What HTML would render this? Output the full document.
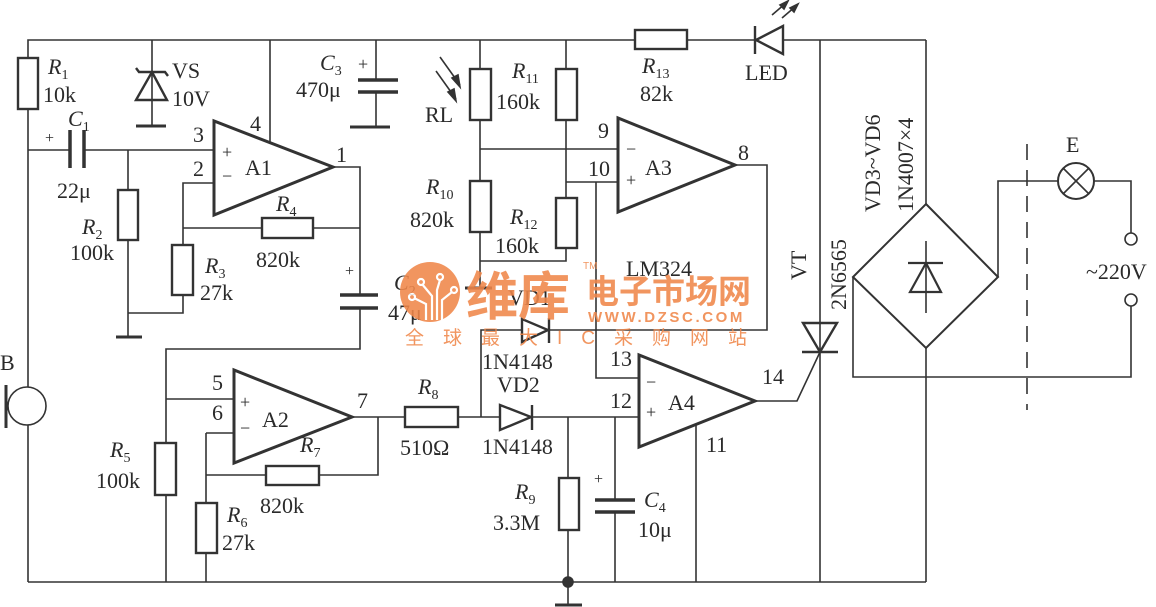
<!DOCTYPE html>
<html><head><meta charset="utf-8"><style>
html,body{margin:0;padding:0;background:#fff;}
svg{display:block;}
text{font-family:"Liberation Serif",serif;fill:#2a2a2a;}
</style></head><body>
<svg width="1156" height="607" viewBox="0 0 1156 607" xmlns="http://www.w3.org/2000/svg">
<g stroke="#333" stroke-width="1.6" fill="none">
<!-- top rail -->
<polyline points="28,58 28,40 926,40"/>
<line x1="28" y1="109" x2="28" y2="387"/>
<line x1="28" y1="425" x2="28" y2="582"/>
<line x1="28" y1="582" x2="926" y2="582"/>
<!-- R1 -->
<rect x="18" y="58" width="20" height="51" stroke-width="2.4"/>
<!-- C1 line -->
<line x1="28" y1="150" x2="70" y2="150"/>
<line x1="84" y1="150" x2="214" y2="150"/>
<line x1="70" y1="130" x2="70" y2="168" stroke-width="3.5"/>
<line x1="84" y1="130" x2="84" y2="168" stroke-width="3.5"/>
<!-- VS -->
<line x1="152" y1="40" x2="152" y2="126"/>
<line x1="136" y1="126" x2="166" y2="126" stroke-width="3"/>
<polygon points="152,72 136,100 167,100" stroke-width="2.4"/>
<polyline points="136,68 139,72 165,72 168,76" stroke-width="2.4"/>
<!-- A1 -->
<polygon points="214,121 214,215 333,167" stroke-width="3"/>
<line x1="270" y1="40" x2="270" y2="144"/>
<polyline points="333,167 360,167 360,295"/>
<line x1="340" y1="295" x2="378" y2="295" stroke-width="3.5"/>
<line x1="340" y1="308" x2="378" y2="308" stroke-width="3.5"/>
<polyline points="360,308 360,349 166,349 166,443"/>
<line x1="166" y1="495" x2="166" y2="582"/>
<line x1="166" y1="399" x2="234" y2="399"/>
<!-- R2 -->
<line x1="128" y1="150" x2="128" y2="190"/>
<rect x="118" y="190" width="20" height="50" stroke-width="2.4"/>
<line x1="128" y1="240" x2="128" y2="337"/>
<line x1="116" y1="337" x2="142" y2="337" stroke-width="3"/>
<polyline points="128,313 183,313 183,295"/>
<rect x="172" y="245" width="21" height="50" stroke-width="2.4"/>
<polyline points="183,245 183,183 214,183"/>
<line x1="183" y1="228" x2="262" y2="228"/>
<rect x="262" y="218" width="51" height="20" stroke-width="2.4"/>
<line x1="313" y1="228" x2="360" y2="228"/>
<!-- C3 -->
<line x1="376" y1="40" x2="376" y2="80"/>
<line x1="358" y1="80" x2="398" y2="80" stroke-width="3.5"/>
<line x1="358" y1="92" x2="398" y2="92" stroke-width="3.5"/>
<line x1="376" y1="92" x2="376" y2="127"/>
<line x1="350" y1="127" x2="390" y2="127" stroke-width="3"/>
<!-- RL / R10 -->
<line x1="480" y1="40" x2="480" y2="69"/>
<rect x="470" y="69" width="21" height="51" stroke-width="2.4"/>
<line x1="480" y1="120" x2="480" y2="181"/>
<rect x="470" y="181" width="21" height="51" stroke-width="2.4"/>
<line x1="480" y1="232" x2="480" y2="288"/>
<line x1="465" y1="288" x2="492" y2="288" stroke-width="3"/>
<line x1="480" y1="149" x2="618" y2="149"/>
<polyline points="480,261 566,261 566,248"/>
<!-- R11 / R12 -->
<line x1="566" y1="40" x2="566" y2="69"/>
<rect x="556" y="69" width="21" height="51" stroke-width="2.4"/>
<line x1="566" y1="120" x2="566" y2="198"/>
<rect x="556" y="198" width="21" height="50" stroke-width="2.4"/>
<line x1="566" y1="182" x2="618" y2="182"/>
<polyline points="596,182 596,378 639,378"/>
<!-- RL arrows -->
<line x1="440" y1="57" x2="460" y2="85"/>
<polygon points="460,87 452,78 458,75" fill="#333"/>
<line x1="436" y1="71" x2="456" y2="99"/>
<polygon points="456,101 448,92 454,89" fill="#333"/>
<!-- R13 / LED -->
<rect x="635" y="30" width="52" height="19" fill="#fff" stroke-width="2.4"/>
<polygon points="756,40 783,26 783,54" fill="#fff" stroke-width="2.4"/>
<line x1="755" y1="26" x2="755" y2="54" stroke-width="2.4"/>
<line x1="772" y1="15" x2="786" y2="3"/>
<polygon points="788,1 780,5 784,9" fill="#333"/>
<line x1="782" y1="18" x2="796" y2="6"/>
<polygon points="798,4 790,8 794,12" fill="#333"/>
<!-- A3 -->
<polygon points="618,118 618,212 735,165" stroke-width="3"/>
<polyline points="735,165 767,165 767,330 548,330"/>
<!-- A2 -->
<polygon points="234,370 234,463 352,417" stroke-width="3"/>
<polyline points="206,433 234,433"/>
<polyline points="352,417 405,417"/>
<rect x="405" y="407" width="53" height="20" stroke-width="2.4"/>
<polyline points="378,417 378,475 319,475"/>
<rect x="266" y="466" width="53" height="19" stroke-width="2.4"/>
<polyline points="266,475 206,475"/>
<line x1="206" y1="433" x2="206" y2="503"/>
<rect x="196" y="503" width="21" height="50" stroke-width="2.4"/>
<line x1="206" y1="553" x2="206" y2="582"/>
<rect x="155" y="443" width="21" height="52" stroke-width="2.4"/>
<!-- mic -->
<circle cx="27" cy="406" r="19"/>
<line x1="6" y1="385" x2="6" y2="428" stroke-width="3"/>
<!-- VD1 / VD2 -->
<line x1="458" y1="417" x2="500" y2="417"/>
<polyline points="481,417 481,330 522,330"/>
<polygon points="522,319 522,342 548,330" stroke-width="2.4"/>
<line x1="549" y1="318" x2="549" y2="343" stroke-width="2.4"/>
<polygon points="500,405 500,430 531,417" stroke-width="2.4"/>
<line x1="532" y1="405" x2="532" y2="430" stroke-width="2.4"/>
<line x1="532" y1="417" x2="639" y2="417"/>
<line x1="568" y1="417" x2="568" y2="478"/>
<rect x="559" y="478" width="20" height="52" stroke-width="2.4"/>
<line x1="568" y1="530" x2="568" y2="605"/>
<line x1="555" y1="605" x2="582" y2="605" stroke-width="3"/>
<circle cx="568" cy="582" r="5" fill="#333"/>
<line x1="615" y1="417" x2="615" y2="500"/>
<line x1="595" y1="500" x2="635" y2="500" stroke-width="3.5"/>
<line x1="595" y1="512" x2="635" y2="512" stroke-width="3.5"/>
<line x1="615" y1="512" x2="615" y2="582"/>
<!-- A4 -->
<polygon points="639,355 639,447 755,401" stroke-width="3"/>
<line x1="696" y1="424" x2="696" y2="582"/>
<polyline points="755,401 797,401 820,352"/>
<!-- VT -->
<line x1="820" y1="40" x2="820" y2="582"/>
<polygon points="803,323 837,323 820,352" stroke-width="2.4"/>
<line x1="802" y1="352" x2="838" y2="352" stroke-width="2.4"/>
<!-- bridge -->
<line x1="926" y1="40" x2="926" y2="204"/>
<polygon points="926,204 998,277 926,348 853,277" stroke-width="2"/>
<line x1="926" y1="348" x2="926" y2="582"/>
<line x1="926" y1="241" x2="926" y2="313"/>
<polygon points="926,263 910,292 941,292" stroke-width="2.2"/>
<line x1="908" y1="263" x2="943" y2="263" stroke-width="2.2"/>
<polyline points="998,277 998,181 1058,181"/>
<circle cx="1076" cy="181" r="18" stroke-width="2"/>
<line x1="1063" y1="168" x2="1089" y2="194"/>
<line x1="1089" y1="168" x2="1063" y2="194"/>
<polyline points="1094,181 1131,181 1131,233"/>
<circle cx="1131" cy="239" r="6"/>
<circle cx="1131" cy="300" r="6"/>
<polyline points="1131,306 1131,377 853,377 853,277"/>
<line x1="1027" y1="144" x2="1027" y2="410" stroke-dasharray="16,10"/>
</g>

<g font-size="22">
<text x="48" y="74" font-style="italic">R<tspan font-size="14" dy="5" font-style="normal">1</tspan></text>
<text x="43" y="102">10k</text>
<text x="68" y="126" font-style="italic">C<tspan font-size="14" dy="5" font-style="normal">1</tspan></text>
<text x="45" y="143" font-size="16">+</text>
<text x="57" y="198">22μ</text>
<text x="82" y="234" font-style="italic">R<tspan font-size="14" dy="5" font-style="normal">2</tspan></text>
<text x="70" y="260">100k</text>
<text x="172" y="78">VS</text>
<text x="172" y="106">10V</text>
<text x="250" y="131">4</text>
<text x="193" y="142">3</text>
<text x="193" y="176">2</text>
<text x="336" y="162">1</text>
<text x="222" y="158" font-size="18">+</text>
<text x="222" y="182" font-size="18">−</text>
<text x="245" y="175">A1</text>
<text x="205" y="273" font-style="italic">R<tspan font-size="14" dy="5" font-style="normal">3</tspan></text>
<text x="200" y="300">27k</text>
<text x="276" y="211" font-style="italic">R<tspan font-size="14" dy="5" font-style="normal">4</tspan></text>
<text x="256" y="267">820k</text>
<text x="345" y="276" font-size="16">+</text>
<text x="394" y="290" font-style="italic">C<tspan font-size="14" dy="5" font-style="normal">2</tspan></text>
<text x="388" y="320">47μ</text>
<text x="320" y="70" font-style="italic">C<tspan font-size="14" dy="5" font-style="normal">3</tspan></text>
<text x="358" y="70" font-size="18">+</text>
<text x="296" y="97">470μ</text>
<text x="425" y="122">RL</text>
<text x="512" y="78" font-style="italic">R<tspan font-size="14" dy="5" font-style="normal">11</tspan></text>
<text x="496" y="109">160k</text>
<text x="426" y="194" font-style="italic">R<tspan font-size="14" dy="5" font-style="normal">10</tspan></text>
<text x="410" y="227">820k</text>
<text x="510" y="224" font-style="italic">R<tspan font-size="14" dy="5" font-style="normal">12</tspan></text>
<text x="495" y="253">160k</text>
<text x="642" y="73" font-style="italic">R<tspan font-size="14" dy="5" font-style="normal">13</tspan></text>
<text x="640" y="101">82k</text>
<text x="745" y="80">LED</text>
<text x="598" y="138">9</text>
<text x="588" y="176">10</text>
<text x="738" y="160">8</text>
<text x="626" y="155" font-size="18">−</text>
<text x="626" y="186" font-size="18">+</text>
<text x="645" y="175">A3</text>
<text x="626" y="276">LM324</text>
<text x="212" y="390">5</text>
<text x="212" y="420">6</text>
<text x="240" y="408" font-size="18">+</text>
<text x="240" y="434" font-size="18">−</text>
<text x="262" y="427">A2</text>
<text x="357" y="408">7</text>
<text x="0" y="370">B</text>
<text x="110" y="457" font-style="italic">R<tspan font-size="14" dy="5" font-style="normal">5</tspan></text>
<text x="96" y="488">100k</text>
<text x="227" y="522" font-style="italic">R<tspan font-size="14" dy="5" font-style="normal">6</tspan></text>
<text x="222" y="550">27k</text>
<text x="300" y="452" font-style="italic">R<tspan font-size="14" dy="5" font-style="normal">7</tspan></text>
<text x="260" y="513">820k</text>
<text x="418" y="394" font-style="italic">R<tspan font-size="14" dy="5" font-style="normal">8</tspan></text>
<text x="400" y="455">510Ω</text>
<text x="508" y="305">VD1</text>
<text x="482" y="369">1N4148</text>
<text x="497" y="392">VD2</text>
<text x="482" y="454">1N4148</text>
<text x="515" y="499" font-style="italic">R<tspan font-size="14" dy="5" font-style="normal">9</tspan></text>
<text x="493" y="530">3.3M</text>
<text x="594" y="484" font-size="16">+</text>
<text x="644" y="507" font-style="italic">C<tspan font-size="14" dy="5" font-style="normal">4</tspan></text>
<text x="638" y="537">10μ</text>
<text x="610" y="366">13</text>
<text x="610" y="408">12</text>
<text x="762" y="384">14</text>
<text x="706" y="452">11</text>
<text x="646" y="388" font-size="18">−</text>
<text x="646" y="418" font-size="18">+</text>
<text x="668" y="410">A4</text>
<text transform="translate(806,280) rotate(-90)">VT</text>
<text transform="translate(846,310) rotate(-90)">2N6565</text>
<text transform="translate(880,212) rotate(-90)">VD3~VD6</text>
<text transform="translate(913,212) rotate(-90)">1N4007×4</text>
<text x="1066" y="152">E</text>
<text x="1086" y="279">~220V</text>
</g>

<!-- watermark -->
<g fill="#f0874a" opacity="0.88">
<circle cx="430" cy="292" r="30" fill="#f0874a"/>
<g stroke="#fff" stroke-width="2.2" fill="none">
<polyline points="432,320 432,296 422,284"/><polyline points="437,320 437,290 440,280"/><polyline points="442,320 442,300 452,292"/><polyline points="426,320 426,304 414,298"/>
<circle cx="421" cy="282" r="3"/><circle cx="440" cy="277" r="3"/><circle cx="454" cy="290" r="3"/><circle cx="412" cy="297" r="3"/>
</g>
<text x="466" y="315" font-size="52" font-weight="bold" style="font-family:'Noto Sans CJK SC',sans-serif;fill:#f0874a">维库</text>
<text x="586" y="303" font-size="33" font-weight="bold" style="font-family:'Noto Sans CJK SC',sans-serif;fill:#f0874a">电子市场网</text>
<text x="588" y="322" font-size="15" font-weight="bold" letter-spacing="2.6" style="font-family:'Liberation Sans',sans-serif;fill:#f0874a">WWW.DZSC.COM</text>
<text x="583" y="269" font-size="10" style="font-family:'Liberation Sans',sans-serif;fill:#f0874a">TM</text>
<text x="405" y="344" font-size="19" letter-spacing="19" style="font-family:'Liberation Sans','Noto Sans CJK SC',sans-serif;fill:#f0874a">全球最大IC采购网站</text>
</g>
</svg>
</body></html>
